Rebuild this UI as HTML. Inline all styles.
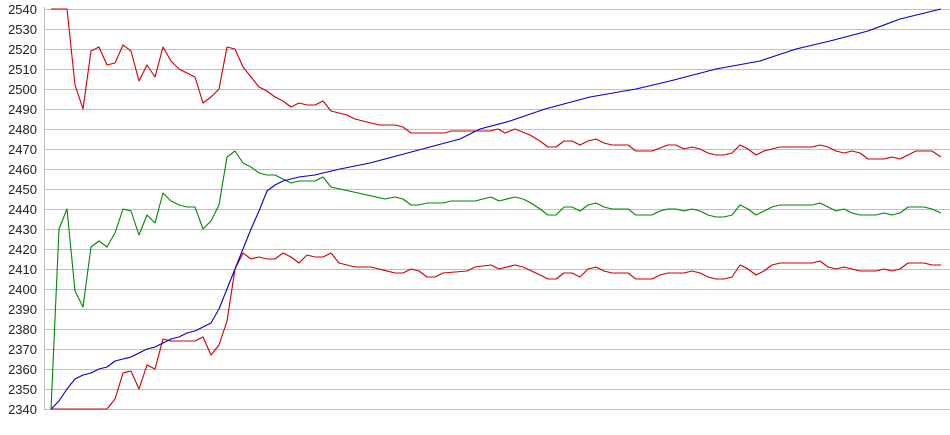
<!DOCTYPE html>
<html><head><meta charset="utf-8"><style>
html,body{margin:0;padding:0;background:#fff;}
svg{display:block;font-family:"Liberation Sans",Arial,sans-serif;}
</style></head><body>
<svg width="950" height="435" viewBox="0 0 950 435" xmlns="http://www.w3.org/2000/svg">
<g stroke="#c0c0c0" stroke-width="1">
<line x1="44" x2="950" y1="9.5" y2="9.5"/><line x1="44" x2="950" y1="29.5" y2="29.5"/><line x1="44" x2="950" y1="49.5" y2="49.5"/><line x1="44" x2="950" y1="69.5" y2="69.5"/><line x1="44" x2="950" y1="89.5" y2="89.5"/><line x1="44" x2="950" y1="109.5" y2="109.5"/><line x1="44" x2="950" y1="129.5" y2="129.5"/><line x1="44" x2="950" y1="149.5" y2="149.5"/><line x1="44" x2="950" y1="169.5" y2="169.5"/><line x1="44" x2="950" y1="189.5" y2="189.5"/><line x1="44" x2="950" y1="209.5" y2="209.5"/><line x1="44" x2="950" y1="229.5" y2="229.5"/><line x1="44" x2="950" y1="249.5" y2="249.5"/><line x1="44" x2="950" y1="269.5" y2="269.5"/><line x1="44" x2="950" y1="289.5" y2="289.5"/><line x1="44" x2="950" y1="309.5" y2="309.5"/><line x1="44" x2="950" y1="329.5" y2="329.5"/><line x1="44" x2="950" y1="349.5" y2="349.5"/><line x1="44" x2="950" y1="369.5" y2="369.5"/><line x1="44" x2="950" y1="389.5" y2="389.5"/><line x1="44" x2="950" y1="409.5" y2="409.5"/>
<line x1="44.5" y1="7" x2="44.5" y2="410"/>
</g>
<g font-size="13" fill="#222" text-anchor="end">
<text x="37" y="14">2540</text><text x="37" y="34">2530</text><text x="37" y="54">2520</text><text x="37" y="74">2510</text><text x="37" y="94">2500</text><text x="37" y="114">2490</text><text x="37" y="134">2480</text><text x="37" y="154">2470</text><text x="37" y="174">2460</text><text x="37" y="194">2450</text><text x="37" y="214">2440</text><text x="37" y="234">2430</text><text x="37" y="254">2420</text><text x="37" y="274">2410</text><text x="37" y="294">2400</text><text x="37" y="314">2390</text><text x="37" y="334">2380</text><text x="37" y="354">2370</text><text x="37" y="374">2360</text><text x="37" y="394">2350</text><text x="37" y="414">2340</text>
</g>
<g transform="matrix(1 0 0 -2 0 5089)" fill="none" stroke-width="1.1" stroke-linejoin="round">
<polyline vector-effect="non-scaling-stroke" stroke="#cc0000" points="51,2540 67,2540 75,2502 83,2490 91,2519 99,2521 107,2512 115,2513 123,2522 131,2519 139,2504 147,2512 155,2506 163,2521 171,2514 179,2510 187,2508 195,2506 203,2493 211,2496 219,2500 227,2521 235,2520 243,2511 251,2506 259,2501 267,2499 275,2496 283,2494 291,2491 299,2493 307,2492 315,2492 323,2494 331,2489 339,2488 347,2487 355,2485 363,2484 371,2483 379,2482 395,2482 403,2481 411,2478 445,2478 451,2479 490,2479 498,2480 505,2478 515,2480 530,2477 540,2474 548,2471 556,2471 564,2474 572,2474 580,2472 588,2474 596,2475 604,2473 612,2472 628,2472 636,2469 652,2469 668,2472 676,2472 684,2470 692,2471 700,2470 708,2468 716,2467 724,2467 732,2468 740,2472 748,2470 756,2467 764,2469 772,2470 780,2471 812,2471 820,2472 828,2471 836,2469 844,2468 852,2469 860,2468 868,2465 884,2465 892,2466 900,2465 908,2467 916,2469 932,2469 941,2466"/>
<polyline vector-effect="non-scaling-stroke" stroke="#008800" points="51,2340 59,2430 67,2440 75,2399 83,2391 91,2421 99,2424 107,2421 115,2428 123,2440 131,2439 139,2427 147,2437 155,2433 163,2448 171,2444 179,2442 187,2441 195,2441 203,2430 211,2434 219,2442 227,2466 235,2469 243,2463 251,2461 259,2458 267,2457 275,2457 283,2455 291,2453 299,2454 315,2454 323,2456 331,2451 385,2445 395,2446 403,2445 411,2442 419,2442 427,2443 443,2443 451,2444 475,2444 483,2445 491,2446 499,2444 515,2446 523,2445 531,2443 540,2440 548,2437 556,2437 564,2441 572,2441 580,2439 588,2442 596,2443 604,2441 612,2440 628,2440 636,2437 652,2437 660,2439 668,2440 676,2440 684,2439 692,2440 700,2439 708,2437 716,2436 724,2436 732,2437 740,2442 748,2440 756,2437 764,2439 772,2441 780,2442 812,2442 820,2443 828,2441 836,2439 844,2440 852,2438 860,2437 876,2437 884,2438 892,2437 900,2438 908,2441 924,2441 932,2440 941,2438"/>
<polyline vector-effect="non-scaling-stroke" stroke="#cc0000" points="51,2340 107,2340 115,2345 123,2358 131,2359 139,2350 147,2362 155,2360 163,2375 171,2374 195,2374 203,2376 211,2367 219,2372 227,2384 235,2410 243,2418 251,2415 259,2416 267,2415 275,2415 283,2418 291,2416 299,2413 307,2417 315,2416 323,2416 331,2418 339,2413 347,2412 355,2411 371,2411 379,2410 395,2408 403,2408 411,2410 419,2409 427,2406 435,2406 443,2408 467,2409 475,2411 491,2412 499,2410 515,2412 523,2411 540,2407 548,2405 556,2405 564,2408 572,2408 580,2406 588,2410 596,2411 604,2409 612,2408 628,2408 636,2405 652,2405 660,2407 668,2408 684,2408 692,2409 700,2408 708,2406 716,2405 724,2405 732,2406 740,2412 748,2410 756,2407 764,2409 772,2412 780,2413 812,2413 820,2414 828,2411 836,2410 844,2411 852,2410 860,2409 876,2409 884,2410 892,2409 900,2410 908,2413 924,2413 932,2412 941,2412"/>
<polyline vector-effect="non-scaling-stroke" stroke="#0000cc" points="51,2340 59,2344 67,2350 75,2355 83,2357 91,2358 99,2360 107,2361 115,2364 123,2365 131,2366 139,2368 147,2370 155,2371 163,2373 171,2375 179,2376 187,2378 195,2379 203,2381 211,2383 219,2390 227,2400 235,2410 243,2420 251,2430 259,2439 267,2449 275,2452 283,2454 291,2455 299,2456 315,2457 323,2458 340,2460 370,2463 400,2467 430,2471 460,2475 480,2480 510,2484 545,2490 590,2496 636,2500 670,2504 716,2510 760,2514 796,2520 830,2524 868,2529 900,2535 941,2540"/>
</g>
</svg>
</body></html>
